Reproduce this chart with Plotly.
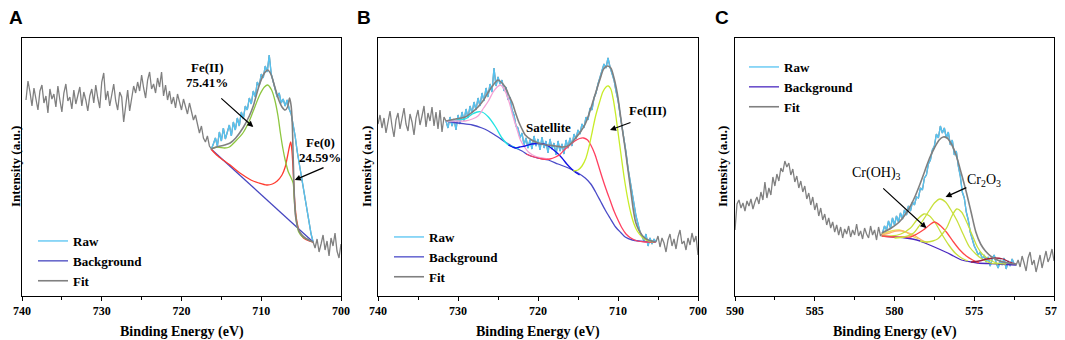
import numpy as np
import plotly.graph_objects as go

# ---------------- Panel A : Fe 2p (before) ----------------
a_raw_start, a_raw_step = 739.5, 0.25
a_raw = [196, 215, 204, 190, 208, 198, 186, 205, 211, 193, 200, 183, 207, 197,
         202, 189, 210, 196, 184, 203, 212, 195, 199, 187, 206, 192, 201, 209,
         190, 204, 196, 185, 200, 207, 193, 211, 198, 188, 214, 223, 196, 205,
         190, 202, 212, 195, 186, 204, 199, 174, 192, 206, 185, 198, 210, 203,
         214, 205, 221, 208, 198, 216, 224, 207, 212, 203, 218, 209, 224, 200,
         211, 196, 205, 192, 199, 188, 202, 194, 186, 197, 190, 182, 193, 184,
         176, 181, 170, 163, 170, 158, 154, 160, 150, 147,
         152, 158, 150, 164, 155, 168, 157, 163, 171, 160, 174, 166, 178, 170,
         184, 177, 190, 186, 198, 192, 205, 199, 214, 210, 222, 218, 230, 224,
         241, 222, 215, 206, 199, 203, 193, 197, 190, 196, 187, 182, 172, 160,
         145, 133, 118, 108, 94, 82, 70, 62, 54,
         48, 57, 44, 52, 61, 46, 55, 40, 58, 50, 63, 45, 38, 52]
a_window = (703.5, 716.25)
a_fit_e = [716.3, 715.6, 714.6, 713.9, 713.2, 712.3, 711.5, 711.0, 710.2, 709.6, 709.2, 708.8,
           708.3, 707.8, 707.4, 707.0, 706.7, 706.45, 706.25, 706.1, 706.0, 705.85, 705.7,
           705.4, 705.1, 704.5, 703.5]
a_fit_i = [147, 149, 151, 153, 158, 168, 180, 190, 212, 223, 226, 222,
           209, 196, 189, 186, 189, 198, 190, 170, 140, 100, 80,
           68, 63, 58, 54]
a_bg_e = [716.3, 703.5]
a_bg_i = [147, 54]
a_fe2_e = [716.3, 715.5, 714.6, 714.0, 713.2, 712.3, 711.5, 711.0, 710.2, 709.6, 709.2, 708.7,
           708.3, 707.9, 707.6, 707.3, 707.0, 706.6, 706.3, 706.0, 705.85, 705.6, 705.3,
           704.8, 704.3, 703.5]
a_fe2_i = [147, 149, 148, 149, 155, 163, 175, 185, 201, 209, 211, 206,
           196, 180, 163, 148, 136, 124, 119, 113, 95, 75, 64,
           59, 57, 54]
a_fe0_e = [716.3, 715.6, 714.8, 713.9, 713.0, 712.3, 711.3, 710.3, 709.3, 708.6, 708.0, 707.4,
           707.0, 706.7, 706.45, 706.3, 706.15, 706.0, 705.85, 705.6, 705.2, 704.7, 704.0, 703.5]
a_fe0_i = [147, 141, 136, 131, 125, 121, 116, 113, 111, 112, 115, 121,
           129, 140, 150, 154, 145, 125, 100, 78, 64, 58, 55, 54]

# ---------------- Panel B : Fe 2p (after) ----------------
b_raw_start, b_raw_step = 740.0, 0.25
b_raw = [172, 181, 168, 178, 163, 175, 185, 170, 159, 176, 183, 167, 179, 188, 172, 165, 182,
         174, 161, 178, 186, 171, 180, 190, 169, 183, 175, 189, 170, 184, 167, 186, 164, 179,
         175, 168, 179, 170, 177, 166, 181, 172, 184, 175, 187, 178, 190, 183, 194, 186, 198,
         190, 203, 195, 208, 199, 212, 204, 228, 210, 219, 212, 216, 205, 209, 196, 199, 186,
         181, 170, 168, 158, 163, 151, 158, 148, 156, 147, 160, 150, 157, 146, 159, 148, 155,
         143, 157, 147, 153, 141, 155, 145, 152, 142, 156, 148, 158, 150, 162, 157, 166, 162,
         172, 168, 179, 176, 188, 186, 198, 203, 212, 218, 226, 232, 228, 238, 229, 222, 216,
         205, 196, 182, 170, 155, 144, 128, 116, 101, 90, 80, 72, 64, 60, 55, 62, 50, 58, 52,
         57, 54,
         60, 49, 58, 53, 44, 56, 62, 50, 57, 47, 59, 66, 52, 55, 46, 58, 51, 63, 54, 60, 41]
b_window = (705.25, 731.5)
b_fit_e = [731.5, 730.3, 729.1, 728.2, 727.5, 726.8, 726.2, 725.5, 725.0, 724.5, 724.1, 723.6,
           723.2, 722.8, 722.4, 722.0, 721.6, 720.8, 720.0, 718.9, 717.8, 716.9, 716.3, 715.7,
           715.3, 714.7, 714.1, 713.5, 712.8, 712.2, 711.8, 711.3, 710.9, 710.5, 710.1, 709.8,
           709.5, 709.1, 708.8, 708.4, 708.1, 707.8, 707.4, 706.8, 706.2, 705.3]
b_fit_i = [175, 177, 179, 184, 189, 196, 204, 212, 216, 213, 209, 200,
           193, 183, 174, 167, 161, 156, 153, 151, 150, 149, 150, 154,
           158, 164, 172, 185, 203, 218, 227, 230, 228, 218, 203, 187,
           169, 147, 129, 105, 87, 74, 66, 59, 56, 54]
b_bg_e = [731.5, 730.0, 728.2, 727.0, 726.2, 725.0, 724.1, 723.3, 722.8, 722.0, 721.2, 720.0,
          718.7, 717.5, 716.2, 715.0, 714.1, 713.4, 712.8, 712.2, 711.6, 711.0, 710.3, 709.6,
          709.1, 708.2, 707.4, 705.3]
b_bg_i = [175, 173, 171, 168, 165, 159, 154, 150, 148, 145, 141, 138,
          136, 132, 128, 123, 118, 112, 104, 95, 86, 78, 69, 63,
          59, 56, 55, 54]
b_cyan_e = [731.5, 730.0, 729.1, 728.2, 727.6, 727.0, 726.2, 725.3, 724.5, 723.7, 723.0, 722.4]
b_cyan_i = [175, 176, 177, 182, 184, 184, 179, 169, 158, 151, 149, 147]
b_pink_e = [731.5, 730.0, 729.1, 728.2, 727.5, 726.8, 726.2, 725.6, 725.1, 724.7, 724.3, 723.9,
            723.5, 723.1, 722.6, 722.2, 721.6, 721.2, 720.4, 719.5, 718.7]
b_pink_i = [175, 175, 175, 177, 180, 188, 195, 204, 209, 211, 208, 201,
            191, 179, 166, 156, 148, 144, 140, 138, 137]
b_sat_e = [723.7, 723.2, 722.8, 722.3, 721.6, 720.8, 720.0, 719.3, 718.7, 718.2, 717.6, 717.0,
           716.4, 715.8, 715.2, 714.8]
b_sat_i = [151, 149, 148, 149, 150, 152, 152.5, 152, 150, 147, 143, 138,
           132, 127, 123, 121]
b_red_e = [721.5, 720.5, 719.5, 718.5, 717.8, 717.2, 716.6, 716.0, 715.4, 714.8, 714.3, 713.8,
           713.4, 712.9, 712.5, 712.0, 711.5, 711.0, 710.5, 710.0, 709.5, 709.0, 708.4, 707.6,
           706.6, 705.3]
b_red_i = [142, 139, 137, 137, 139, 142, 147, 151, 155, 157.5, 158, 156,
           151, 142, 132, 119, 107, 96, 85, 76, 68, 62, 58, 55,
           54, 54]
b_fe3_e = [715.6, 715.0, 714.5, 714.0, 713.6, 713.2, 712.8, 712.3, 711.9, 711.5, 711.2, 710.9,
           710.6, 710.3, 710.0, 709.6, 709.2, 708.8, 708.4, 708.0, 707.6, 707.0, 706.5, 705.6]
b_fe3_i = [125, 126, 130, 138, 150, 165, 180, 194, 204, 209, 210, 207,
           197, 182, 164, 140, 117, 98, 83, 72, 65, 59, 56, 54]

# ---------------- Panel C : Cr 2p ----------------
c_raw_start, c_raw_step = 590.0, 0.125
c_raw = [66, 92, 96, 88, 93, 85, 95, 90, 97, 87, 94, 99, 92, 104, 96, 114, 98, 108, 101, 119,
         110, 122, 115, 128, 124, 135, 129, 133, 121, 127, 114, 120, 108, 115, 104, 110, 97,
         103, 91, 99, 86, 93, 80, 88, 76, 82, 71, 78, 68, 74, 64, 71, 61, 69, 58, 67, 62, 70,
         59, 66, 61, 72, 60, 65, 57, 68, 62, 58, 70, 61, 66, 56, 69, 60,
         63, 70, 66, 75, 68, 78, 71, 80, 74, 83, 77, 86, 81, 90, 85, 94, 91, 99, 98, 108, 106,
         118, 121, 132, 136, 146, 150, 162, 158, 170, 163, 168, 158, 164, 151, 156, 141, 145,
         130, 120, 104, 98, 84, 76, 64, 57, 50, 46, 41, 44, 37, 41, 34, 39, 30, 37, 41, 33,
         28, 36, 31, 38, 27, 35, 30, 37, 32, 31,
         36, 29, 40, 33, 25, 38, 44, 31, 36, 24, 33, 41, 28, 37, 45, 34, 39, 47, 35]
c_window = (572.375, 580.75)
c_fit_e = [580.8, 580.2, 579.7, 579.3, 579.0, 578.7, 578.4, 578.1, 577.8, 577.5, 577.2, 576.95,
           576.7, 576.4, 576.1, 575.8, 575.5, 575.2, 574.9, 574.6, 574.3, 573.9, 573.4, 572.9,
           572.4]
c_fit_i = [63, 68, 74, 82, 90, 100, 112, 125, 138, 148, 156, 159,
           158, 151, 139, 122, 104, 84, 64, 52, 45, 39, 35, 33,
           32]
c_bg_e = [580.8, 580.0, 579.3, 578.6, 578.1, 577.5, 576.8, 576.3, 575.8, 575.2, 574.8, 573.5, 572.4]
c_bg_i = [60, 59, 58, 56, 53, 49, 44, 40, 36, 34, 33, 32, 31]
c_g1_e = [580.8, 580.2, 579.6, 579.0, 578.6, 578.15, 577.8, 577.4, 577.0, 576.6, 576.2, 575.8, 575.4]
c_g1_i = [60, 60, 62, 68, 76, 82, 80, 72, 61, 51, 43, 38, 35]
c_red_e = [580.8, 580.0, 579.4, 579.0, 578.6, 578.2, 577.8, 577.5, 577.1, 576.7, 576.3, 575.9,
           575.5, 575.1, 574.7]
c_red_i = [60, 59, 59, 59, 62, 66, 71, 74, 70, 63, 54, 46, 40, 36, 33]
c_g2_e = [580.0, 579.4, 578.8, 578.5, 578.2, 577.8, 577.5, 577.15, 576.8, 576.5, 576.1, 575.7,
          575.3, 574.9, 574.6, 574.0, 573.5]
c_g2_i = [58, 59, 63, 69, 76, 86, 93, 97, 94, 87, 76, 62, 49, 42, 38, 33, 32]
c_g3_e = [578.4, 578.0, 577.6, 577.3, 577.0, 576.7, 576.4, 576.1, 575.8, 575.45, 575.1, 574.8,
          574.5, 574.2, 573.6, 573.0]
c_g3_i = [55, 54, 55, 57, 62, 69, 80, 87, 84, 73, 60, 49, 42, 38, 33, 32]
c_or_e = [580.8, 580.3, 579.9, 579.5, 579.1, 578.7, 578.3, 577.9]
c_or_i = [61, 63, 65, 65, 63, 60, 56, 53]
c_ye_e = [580.8, 580.2, 579.7, 579.3, 578.9, 578.5]
c_ye_i = [62, 65, 66, 64, 60, 57]
c_mr_e = [575.2, 574.7, 574.2, 573.7, 573.2, 572.8, 572.4]
c_mr_i = [34, 35, 37, 38, 37, 34, 32]

# ---------------- styles / geometry ----------------
RAW = "#55c3f2"
FIT = "#808080"
SERIF = "Liberation Serif"
WIN_W, WIN_H = 1065, 340
OFF = 8                      # page body margin of the browser
W, H = WIN_W - OFF, WIN_H - OFF


def px(x):
    return (x - OFF) / W


def py(y):
    return (WIN_H - y) / H


ydom = [py(296), py(38)]
xdoms = [[px(22), px(341)], [px(378), px(698)], [px(735), px(1054)]]

fig = go.Figure()


def raw_traces(start, step, vals, window, xa, ya, leg):
    e = start - step * np.arange(len(vals))
    v = np.array(vals, dtype=float)
    fig.add_trace(go.Scatter(x=e, y=v, mode="lines", line=dict(color=FIT, width=1.3),
                             xaxis=xa, yaxis=ya, showlegend=False, hoverinfo="skip"))
    m = (e >= window[0] - 1e-9) & (e <= window[1] + 1e-9)
    fig.add_trace(go.Scatter(x=e[m], y=v[m], mode="lines", line=dict(color=RAW, width=1.3),
                             xaxis=xa, yaxis=ya, name="Raw", legend=leg, showlegend=True))


def curve(e, i, color, xa, ya, name=None, leg=None, width=1.3, smooth=True):
    fig.add_trace(go.Scatter(x=e, y=i, mode="lines",
                             line=dict(color=color, width=width,
                                       shape="spline" if smooth else "linear", smoothing=0.8),
                             xaxis=xa, yaxis=ya, name=name or "",
                             showlegend=name is not None, legend=leg or "legend"))


# Panel A
raw_traces(a_raw_start, a_raw_step, a_raw, a_window, "x", "y", "legend")
curve(a_bg_e, a_bg_i, "#4646c0", "x", "y", "Background", "legend", smooth=False)
curve(a_fe0_e, a_fe0_i, "#ff3b2f", "x", "y")
curve(a_fe2_e, a_fe2_i, "#8dc63f", "x", "y")
curve(a_fit_e, a_fit_i, FIT, "x", "y", "Fit", "legend", width=1.6)

# Panel B
raw_traces(b_raw_start, b_raw_step, b_raw, b_window, "x2", "y2", "legend2")
curve(b_bg_e, b_bg_i, "#4a4ac8", "x2", "y2", "Background", "legend2")
curve(b_cyan_e, b_cyan_i, "#22e3e3", "x2", "y2")
curve(b_pink_e, b_pink_i, "#f5a3d6", "x2", "y2")
curve(b_sat_e, b_sat_i, "#1212e6", "x2", "y2")
curve(b_red_e, b_red_i, "#ff4060", "x2", "y2")
curve(b_fe3_e, b_fe3_i, "#c8ec28", "x2", "y2")
curve(b_fit_e, b_fit_i, FIT, "x2", "y2", "Fit", "legend2", width=1.6)

# Panel C
raw_traces(c_raw_start, c_raw_step, c_raw, c_window, "x3", "y3", "legend3")
curve(c_bg_e, c_bg_i, "#4a28c0", "x3", "y3", "Background", "legend3")
curve(c_ye_e, c_ye_i, "#e8e050", "x3", "y3")
curve(c_or_e, c_or_i, "#ffb070", "x3", "y3")
curve(c_g1_e, c_g1_i, "#c8e03c", "x3", "y3")
curve(c_red_e, c_red_i, "#ff4848", "x3", "y3")
curve(c_g2_e, c_g2_i, "#c8e03c", "x3", "y3")
curve(c_g3_e, c_g3_i, "#c8e03c", "x3", "y3")
curve(c_mr_e, c_mr_i, "#a02040", "x3", "y3")
curve(c_fit_e, c_fit_i, FIT, "x3", "y3", "Fit", "legend3", width=1.6)

tickfont = dict(family=SERIF, size=12, color="black", weight="bold")
xranges = [[740, 700], [740, 700], [590, 570]]
dticks = [10, 10, 5]
layout = dict(width=W, height=H, margin=dict(l=0, r=0, t=0, b=0, autoexpand=False),
              paper_bgcolor="white", plot_bgcolor="white")
for k in range(3):
    sx = "" if k == 0 else str(k + 1)
    layout["xaxis" + sx] = dict(domain=xdoms[k], range=xranges[k], anchor="y" + sx,
                                showline=True, mirror=True, linecolor="black", linewidth=1,
                                ticks="outside", ticklen=4, tickcolor="black", dtick=dticks[k],
                                tick0=0, minor=dict(dtick=dticks[k] / 2, ticks="outside",
                                                    ticklen=3, tickcolor="black"),
                                showgrid=False, zeroline=False, tickfont=tickfont,
                                automargin=False, ticklabeloverflow="allow")
    layout["yaxis" + sx] = dict(domain=ydom, range=[0, 258], anchor="x" + sx,
                                showline=True, mirror=True, linecolor="black", linewidth=1,
                                showticklabels=False, ticks="", showgrid=False, zeroline=False,
                                automargin=False)

legfont = dict(family=SERIF, size=13, color="black", weight="bold")
leg_pos = [(33, 226), (389, 222), (744, 52)]
for k, (lx, ly) in enumerate(leg_pos):
    key = "legend" if k == 0 else "legend%d" % (k + 1)
    layout[key] = dict(x=px(lx), y=py(ly), xanchor="left", yanchor="top",
                       bgcolor="rgba(0,0,0,0)", font=legfont, tracegroupgap=0,
                       itemwidth=30, traceorder="normal")
fig.update_layout(**layout)


def ptext(x, y, text, font, angle=0):
    return dict(x=px(x), y=py(y), xref="paper", yref="paper", text=text, showarrow=False,
                xanchor="center", yanchor="middle", textangle=angle, font=font)


def dtext(x, y, ax, text, font):
    return dict(x=x, y=y, xref=ax, yref=ax.replace("x", "y"), text=text, showarrow=False,
                xanchor="center", yanchor="middle", font=font)


def arrow(x, y, tx, ty, ax):
    ya = ax.replace("x", "y")
    return dict(x=x, y=y, ax=tx, ay=ty, xref=ax, yref=ya, axref=ax, ayref=ya, text="",
                showarrow=True, arrowhead=2, arrowsize=1, arrowwidth=1.2, arrowcolor="black")


ann = []
letter = dict(family="Liberation Sans", size=19, color="black", weight="bold")
title_font = dict(family=SERIF, size=14, color="black", weight="bold")
ytitle_font = dict(family=SERIF, size=13, color="black", weight="bold")
bold = dict(family=SERIF, size=13, color="black", weight="bold")
plain = dict(family=SERIF, size=14, color="black")
for cx, lab in [(16, "A"), (364, "B"), (722, "C")]:
    ann.append(ptext(cx, 17, lab, letter))
for k, cx in enumerate([15, 366, 722]):
    ann.append(ptext(cx, 167, "Intensity (a.u.)", ytitle_font, angle=-90))
    ann.append(ptext((xdoms[k][0] * W + OFF + xdoms[k][1] * W + OFF) / 2, 332,
                     "Binding Energy (eV)", title_font))

ann += [
    dtext(716.8, 229, "x", "Fe(II)", bold),
    dtext(716.8, 214, "x", "75.41%", bold),
    dtext(702.6, 154, "x", "Fe(0)", bold),
    dtext(702.6, 139, "x", "24.59%", bold),
    arrow(711.0, 169, 715.2, 199, "x"),
    arrow(705.8, 116, 702.0, 129, "x"),
    dtext(718.7, 169, "x2", "Satellite", bold),
    dtext(706.2, 186, "x2", "Fe(III)", bold),
    arrow(711.0, 166, 708.25, 174, "x2"),
    dtext(581.1, 123, "x3", "Cr(OH)<sub>3</sub>", plain),
    dtext(574.4, 116, "x3", "Cr<sub>2</sub>O<sub>3</sub>", plain),
    arrow(578.0, 68, 580.8, 109, "x3"),
    arrow(576.8, 99, 575.4, 109, "x3"),
]
fig.update_layout(annotations=ann)
fig.write_html("out.html")
